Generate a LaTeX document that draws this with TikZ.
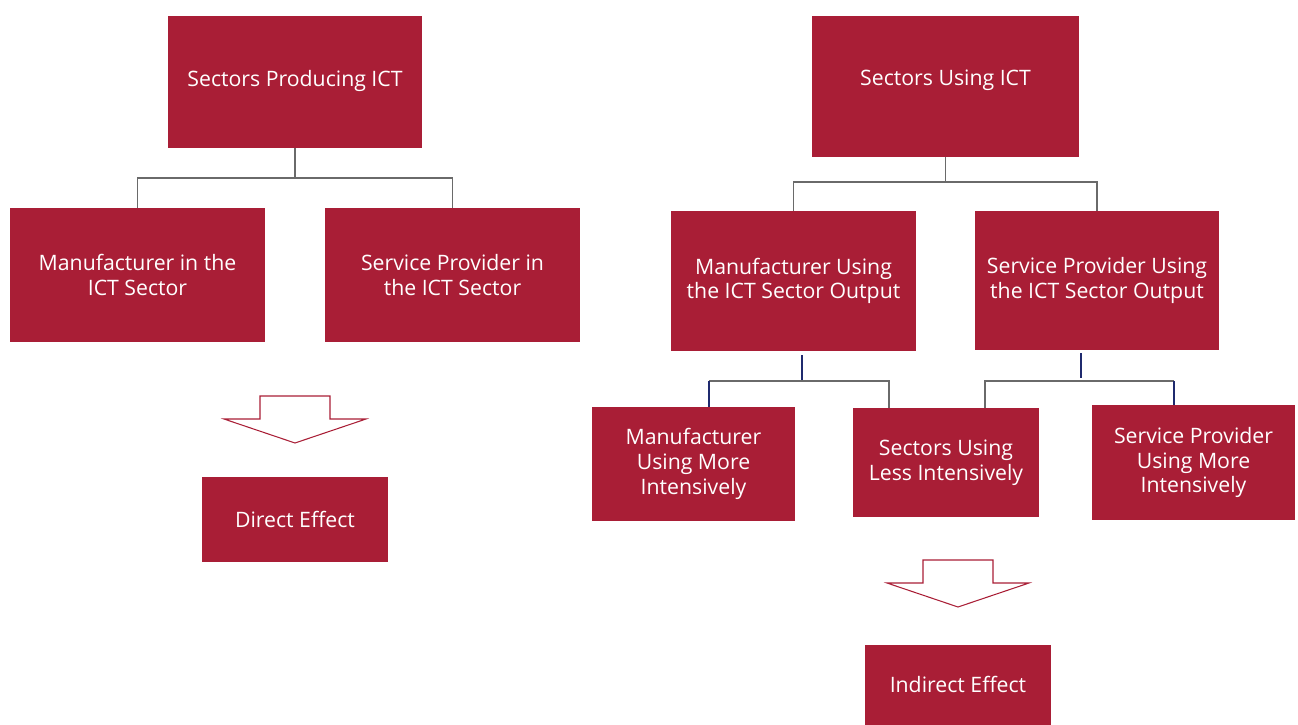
\documentclass[tikz,border=0pt]{standalone}
\usepackage{fontspec}
\setmainfont{Open Sans}
\usepackage{xcolor}
\definecolor{boxRed}{HTML}{A91E36}
\definecolor{linkGray}{HTML}{6A6A6A}
\definecolor{linkNavy}{HTML}{1F2A6E}

\tikzset{
  box/.style={fill=boxRed, draw=none, text=white, align=center,
    font=\fontsize{12.1}{14.1}\selectfont, inner sep=0pt},
  link/.style={draw=linkGray, line width=0.6pt},
  navylink/.style={draw=linkNavy, line width=0.8pt},
  downarr/.pic={
    \draw[draw=boxRed, fill=white, line width=0.6pt, line join=miter]
      (-35,0) -- (35,0) -- (35,23) -- (71,23) -- (0,47) -- (-71,23) -- (-35,23) -- cycle;
  }
}

\begin{document}
\begin{tikzpicture}[x=0.02cm, y=-0.02cm]
  \clip (0,0) rectangle (1298,724);
  \useasboundingbox (0,0) rectangle (1298,724);

  % producing side
  \node[box, minimum width=5.08cm, minimum height=2.64cm, text depth=0.16cm] (prod) at (295,82) {Sectors Producing ICT};
  \node[box, minimum width=5.1cm, minimum height=2.68cm] (mfg) at (137.5,275) {Manufacturer in the\\ICT Sector};
  \node[box, minimum width=5.1cm, minimum height=2.68cm] (srv) at (452.5,275) {Service Provider in\\the ICT Sector};
  \node[box, minimum width=3.72cm, minimum height=1.7cm] (direct) at (295,519.5) {Direct Effect};

  \coordinate (jprod) at (295,178);
  \draw[link] (prod.south) -- (jprod);
  \draw[link] (mfg.north) |- (jprod) -| (srv.north);

  \pic at (295,396) {downarr};

  % using side
  \node[box, minimum width=5.34cm, minimum height=2.82cm, text depth=0.34cm] (use) at (945.5,86.5) {Sectors Using ICT};
  \node[box, minimum width=4.9cm, minimum height=2.8cm] (muse) at (793.5,281) {Manufacturer Using\\the ICT Sector Output};
  \node[box, minimum width=4.88cm, minimum height=2.78cm] (suse) at (1097,280.5) {Service Provider Using\\the ICT Sector Output};

  \coordinate (juse) at (945.5,182);
  \draw[link] (use.south) -- (juse);
  \draw[link] (muse.north) |- (juse) -| (suse.north);

  \node[box, minimum width=4.06cm, minimum height=2.28cm] (mmore) at (693.5,464) {Manufacturer\\Using More\\Intensively};
  \node[box, minimum width=3.72cm, minimum height=2.18cm] (less) at (946,462.5) {Sectors Using\\Less Intensively};
  \node[box, minimum width=4.06cm, minimum height=2.3cm] (smore) at (1193.5,462.5) {Service Provider\\Using More\\Intensively};

  % second level, manufacturer branch
  \coordinate (mstem) at (802,355);
  \coordinate (mleft) at (709,381);
  \coordinate (mright) at (889,381);
  \draw[navylink] (mstem) -- (mstem |- mleft);
  \draw[link] (mleft) -- (mright) -- (mright |- less.north);
  \draw[navylink] (mleft) -- (mleft |- mmore.north);

  % second level, service branch
  \coordinate (sstem) at (1081,353);
  \coordinate (sleft) at (985,381);
  \coordinate (sright) at (1174,381);
  \draw[navylink] (sstem) -- (1081,378);
  \draw[link] (sleft |- less.north) -- (sleft) -- (sright);
  \draw[navylink] (sright) -- (sright |- smore.north);

  \pic at (958,560) {downarr};
  \node[box, minimum width=3.72cm, minimum height=1.7cm, text depth=0.14cm] (indirect) at (958,687.5) {Indirect Effect};
\end{tikzpicture}
\end{document}
